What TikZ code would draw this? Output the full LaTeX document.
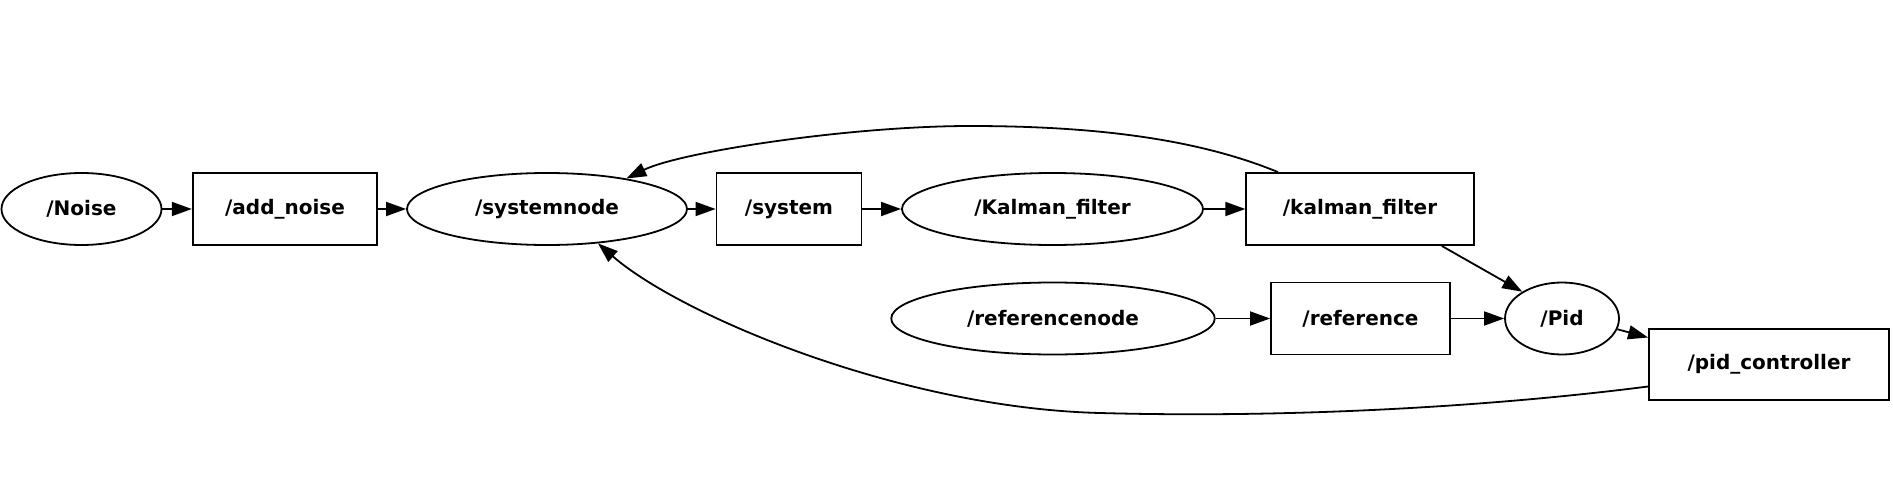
\documentclass[tikz,border=0pt]{standalone}
\usepackage{fontspec}
\setmainfont{DejaVu Sans}
\usetikzlibrary{arrows.meta,shapes.geometric}
\tikzset{
  base/.style={draw, line width=1.8pt, inner sep=0pt, font=\fontsize{20}{24}\selectfont\bfseries},
  oval/.style={base, ellipse, minimum height=72pt},
  box/.style={base, rectangle, minimum height=72pt},
  edge/.style={line width=1.8pt, -{Triangle[length=20pt,width=14pt]}},
}
\begin{document}
\begin{tikzpicture}[x=1pt,y=-1pt]
\useasboundingbox (0,0) rectangle (1893,479);
\node[oval, minimum width=160pt] (noise) at (81.5,209) {/Noise};
\node[box, minimum width=184.5pt] (addn) at (285,209) {/add\_noise};
\node[oval, minimum width=280pt] (sysn) at (547,209) {/systemnode};
\node[box, minimum width=145pt] (sys) at (789,209) {/system};
\node[oval, minimum width=301pt] (kalo) at (1052.5,209) {/Kalman\_filter};
\node[box, minimum width=227.5pt] (kalb) at (1360,209) {/kalman\_filter};
\node[oval, minimum width=323.5pt] (refn) at (1053,318.5) {/referencenode};
\node[box, minimum width=179pt] (ref) at (1360.5,318.5) {/reference};
\node[oval, minimum width=114pt] (pid) at (1562,318.5) {/Pid};
\node[box, minimum width=240pt, minimum height=71pt] (pidc) at (1769,364.5) {/pid\_controller};

\draw[edge] (noise) -- (addn);
\draw[edge] (addn) -- (sysn);
\draw[edge] (sysn) -- (sys);
\draw[edge] (sys) -- (kalo);
\draw[edge] (kalo) -- (kalb);
\draw[edge] (refn) -- (ref);
\draw[edge] (ref) -- (pid);
\draw[edge] ([xshift=81.7pt]kalb.south) -- (pid.146);
\draw[edge] (pid.-11) -- ([yshift=27pt]pidc.west);
\draw[edge] ([xshift=-82pt]kalb.north) .. controls (1200,140) and (1100,126) .. (970,126)
  .. controls (850,126) and (680,152) .. (sysn.21);
\draw[edge] ([yshift=-22pt]pidc.west) .. controls (1480,408) and (1280,418) .. (1100,413)
  .. controls (900,408) and (680,315) .. (sysn.-34);
\end{tikzpicture}
\end{document}
